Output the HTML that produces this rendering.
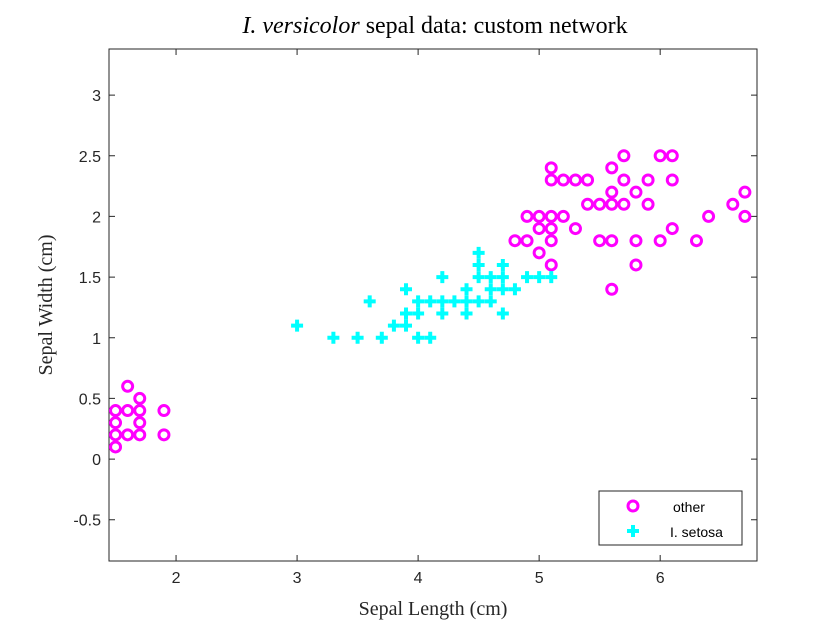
<!DOCTYPE html>
<html><head><meta charset="utf-8"><style>
body{margin:0;background:#fff}
svg text{font-family:"Liberation Sans",sans-serif}
.serif{font-family:"Liberation Serif",serif}
</style></head><body>
<svg width="840" height="630" viewBox="0 0 840 630">
<rect width="840" height="630" fill="#fff"/>
<g id="axes"></g>
<g id="marks"></g>
<text class="serif" x="435" y="33" font-size="24" text-anchor="middle"><tspan font-style="italic">I. versicolor</tspan> sepal data: custom network</text>
<text class="serif" x="433" y="615" font-size="20" text-anchor="middle" fill="#262626">Sepal Length (cm)</text>
<text class="serif" x="0" y="0" font-size="20" text-anchor="middle" fill="#262626" transform="translate(52,305) rotate(-90)">Sepal Width (cm)</text>
<g>
<rect x="599" y="491" width="143" height="54" fill="#fff" stroke="#262626" stroke-width="1"/>
<circle cx="633" cy="506" r="5" fill="none" stroke="#ff00ff" stroke-width="3"/>
<text x="673" y="512" font-size="14" fill="#000">other</text>
<path d="M627 531h12M633 525v12" stroke="#00ffff" stroke-width="4"/>
<text x="670" y="537" font-size="14" fill="#000">I. setosa</text>
</g>
</svg>
<script>
const otherX=[1.5,1.5,1.5,1.5,1.6,1.6,1.6,1.7,1.7,1.7,1.7,1.9,1.9,
5.1,5.1,5.2,5.3,5.4,5.7,5.9,6.1,5.7,6.0,6.1,5.6,5.6,5.8,6.7,5.4,5.5,5.6,5.7,5.9,6.6,
4.9,5.0,5.1,5.2,6.4,6.7,5.0,5.1,5.3,6.1,4.8,4.9,5.1,5.5,5.6,5.8,6.0,6.3,5.0,5.1,5.8,5.6];
const otherY=[0.4,0.3,0.2,0.1,0.6,0.4,0.2,0.5,0.4,0.3,0.2,0.4,0.2,
2.4,2.3,2.3,2.3,2.3,2.3,2.3,2.3,2.5,2.5,2.5,2.4,2.2,2.2,2.2,2.1,2.1,2.1,2.1,2.1,2.1,
2.0,2.0,2.0,2.0,2.0,2.0,1.9,1.9,1.9,1.9,1.8,1.8,1.8,1.8,1.8,1.8,1.8,1.8,1.7,1.6,1.6,1.4];
const setosaX=[4.5,4.5,4.7,4.5,4.6,4.7,4.2,4.9,5.0,5.1,3.9,4.4,4.6,4.7,4.8,
3.6,4.0,4.1,4.2,4.3,4.4,4.5,4.6,3.9,4.0,4.2,4.4,4.7,3.0,3.8,3.9,3.3,3.5,3.7,4.0,4.1];
const setosaY=[1.7,1.6,1.6,1.5,1.5,1.5,1.5,1.5,1.5,1.5,1.4,1.4,1.4,1.4,1.4,
1.3,1.3,1.3,1.3,1.3,1.3,1.3,1.3,1.2,1.2,1.2,1.2,1.2,1.1,1.1,1.1,1.0,1.0,1.0,1.0,1.0];
const xTicks=[2,3,4,5,6];
const yTicks=[-0.5,0,0.5,1,1.5,2,2.5,3];
const L=109,R=757,T=49,B=561,X0=1.446,X1=6.8,Y0=-0.84,Y1=3.38;
const sx=v=>L+(v-X0)/(X1-X0)*(R-L);
const sy=v=>B-(v-Y0)/(Y1-Y0)*(B-T);
const NS="http://www.w3.org/2000/svg";
function mk(tag,at,parent){const e=document.createElementNS(NS,tag);for(const k in at)e.setAttribute(k,at[k]);parent.appendChild(e);return e;}
const ax=document.getElementById('axes'),mg=document.getElementById('marks');
const box=mk('rect',{x:L,y:T,width:R-L,height:B-T,fill:'none',stroke:'#262626','stroke-width':1},ax);


xTicks.forEach(t=>{const x=sx(t);
mk('path',{d:`M${x} ${B}v-6M${x} ${T}v6`,stroke:'#262626'},ax);
const tx=mk('text',{x:x,y:B+22,'font-size':16,'text-anchor':'middle',fill:'#262626'},ax);tx.textContent=t;

});
yTicks.forEach(t=>{const y=sy(t);
mk('path',{d:`M${L} ${y}h6M${R} ${y}h-6`,stroke:'#262626'},ax);
const tx=mk('text',{x:L-8,y:y+6,'font-size':16,'text-anchor':'end',fill:'#262626'},ax);tx.textContent=t;

});
otherX.forEach((v,i)=>{const c=mk('circle',{cx:sx(v),cy:sy(otherY[i]),r:5,fill:'none',stroke:'#ff00ff','stroke-width':3},mg);

});
setosaX.forEach((v,i)=>{const x=sx(v),y=sy(setosaY[i]);const p=mk('path',{d:`M${x-6} ${y}h12M${x} ${y-6}v12`,stroke:'#00ffff','stroke-width':4},mg);

});
</script>
</body></html>
